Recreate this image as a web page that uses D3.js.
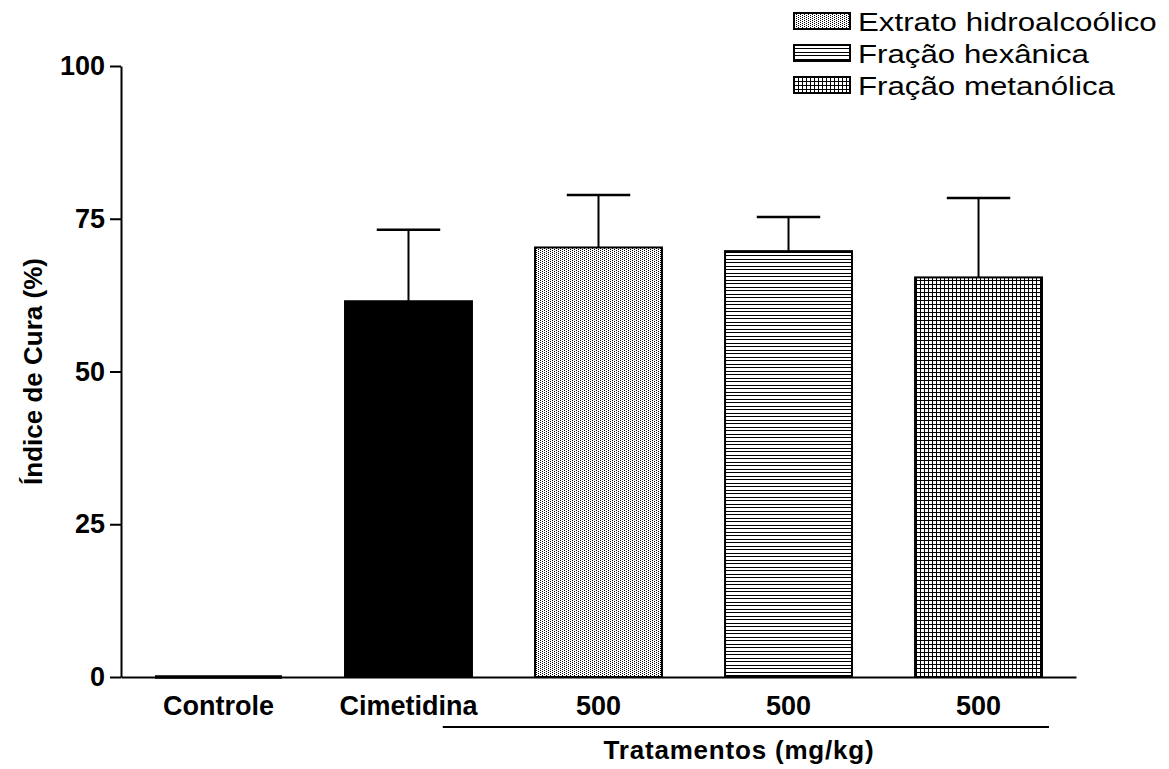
<!DOCTYPE html>
<html>
<head>
<meta charset="utf-8">
<script src="https://cdn.jsdelivr.net/npm/d3@7"></script>
<style>
  body { margin: 0; background: #fff; }
  svg { display: block; font-family: "Liberation Sans", Arial, sans-serif; }
</style>
</head>
<body>
<div id="chart"></div>
<script>
// data
const keys = ['controle', 'cimetidina', 'extrato', 'hexanica', 'metanolica'];
const labels = ['Controle', 'Cimetidina', '500', '500', '500'];
const means = [0, 61.5, 70.3, 69.7, 65.4];
const errors = [0, 11.7, 8.6, 5.6, 13.0];
const yTicks = [0, 25, 50, 75, 100];
const legendNames = ['Extrato hidroalcoólico', 'Fração hexânica', 'Fração metanólica'];

const fillFor = {
  controle: 'none',
  cimetidina: '#000',
  extrato: 'url(#dots)',
  hexanica: 'url(#hlines)',
  metanolica: 'url(#grid)'
};
const legendFills = ['url(#dots)', 'url(#hlines)', 'url(#grid)'];

const width = 1169, height = 769;
const svg = d3.select('#chart').append('svg').attr('width', width).attr('height', height);

// fill patterns
const defs = svg.append('defs');
const dots = defs.append('pattern').attr('id', 'dots').attr('patternUnits', 'userSpaceOnUse')
  .attr('width', 4).attr('height', 2);
dots.append('rect').attr('width', 4).attr('height', 2).attr('fill', '#fff');
dots.append('rect').attr('x', 0).attr('y', 0).attr('width', 1).attr('height', 1).attr('fill', '#000');
dots.append('rect').attr('x', 2).attr('y', 1).attr('width', 1).attr('height', 1).attr('fill', '#000');

const hl = defs.append('pattern').attr('id', 'hlines').attr('patternUnits', 'userSpaceOnUse')
  .attr('width', 4).attr('height', 7);
hl.append('rect').attr('width', 4).attr('height', 7).attr('fill', '#fff');
hl.append('rect').attr('y', 0).attr('width', 4).attr('height', 1).attr('fill', '#000');
hl.append('rect').attr('y', 3).attr('width', 4).attr('height', 1).attr('fill', '#000');

const grid = defs.append('pattern').attr('id', 'grid').attr('patternUnits', 'userSpaceOnUse')
  .attr('width', 4).attr('height', 4);
grid.append('rect').attr('width', 4).attr('height', 4).attr('fill', '#fff');
grid.append('rect').attr('width', 4).attr('height', 1).attr('fill', '#000');
grid.append('rect').attr('width', 1).attr('height', 4).attr('fill', '#000');

const x = d3.scaleBand().domain(keys).range([121, 1076]).paddingInner(0.332).paddingOuter(0.179);
const y = d3.scaleLinear().domain([0, 100]).range([677, 66]);
const bw = x.bandwidth();

const rows = keys.map((k, i) => ({ key: k, mean: means[i], err: errors[i] }));

// bars
svg.selectAll('rect.bar')
  .data(rows.filter(d => d.mean > 0))
  .enter().append('rect')
  .attr('class', 'bar')
  .attr('x', d => x(d.key))
  .attr('y', d => y(d.mean))
  .attr('width', bw)
  .attr('height', d => y(0) - y(d.mean))
  .attr('fill', d => fillFor[d.key])
  .attr('stroke', '#000')
  .attr('stroke-width', 2);

// zero-height bar shows as a thick line
svg.selectAll('line.zero')
  .data(rows.filter(d => d.mean === 0))
  .enter().append('line')
  .attr('x1', d => x(d.key)).attr('x2', d => x(d.key) + bw)
  .attr('y1', y(0)).attr('y2', y(0))
  .attr('stroke', '#000').attr('stroke-width', 3.5);

// error bars (upper only)
const eb = svg.selectAll('g.err')
  .data(rows.filter(d => d.err > 0))
  .enter().append('g');
eb.append('line')
  .attr('x1', d => x(d.key) + bw / 2).attr('x2', d => x(d.key) + bw / 2)
  .attr('y1', d => y(d.mean)).attr('y2', d => y(d.mean + d.err))
  .attr('stroke', '#000').attr('stroke-width', 2);
eb.append('line')
  .attr('x1', d => x(d.key) + bw / 2 - bw / 4).attr('x2', d => x(d.key) + bw / 2 + bw / 4)
  .attr('y1', d => y(d.mean + d.err)).attr('y2', d => y(d.mean + d.err))
  .attr('stroke', '#000').attr('stroke-width', 2.5);

// axes
const yAxis = d3.axisLeft(y).tickValues(yTicks).tickSize(11).tickSizeOuter(0).tickPadding(5);
const gy = svg.append('g').attr('transform', 'translate(121,0)').call(yAxis);
gy.select('.domain').attr('stroke-width', 2);
gy.selectAll('.tick line').attr('stroke-width', 2);
gy.selectAll('.tick text').attr('font-size', 27).attr('font-weight', 'bold')
  .attr('fill', '#000').attr('font-family', '"Liberation Sans", Arial, sans-serif');

const xAxis = d3.axisBottom(x).tickSize(0).tickSizeOuter(0).tickPadding(19)
  .tickFormat((d, i) => labels[i]);
const gx = svg.append('g').attr('transform', `translate(0,${y(0)})`).call(xAxis);
gx.select('.domain').attr('stroke-width', 2);
gx.selectAll('.tick text').attr('font-size', 27).attr('font-weight', 'bold')
  .attr('fill', '#000').attr('font-family', '"Liberation Sans", Arial, sans-serif');

// treatments bracket
svg.append('line')
  .attr('x1', x('cimetidina') + bw * 0.77).attr('x2', x('metanolica') + bw + 7)
  .attr('y1', 727).attr('y2', 727)
  .attr('stroke', '#000').attr('stroke-width', 2);

svg.append('text')
  .attr('x', 739).attr('y', 759)
  .attr('text-anchor', 'middle')
  .attr('font-size', 26).attr('font-weight', 'bold')
  .attr('letter-spacing', 0.8)
  .text('Tratamentos (mg/kg)');

svg.append('text')
  .attr('transform', `translate(42,${y(50)}) rotate(-90)`)
  .attr('text-anchor', 'middle')
  .attr('font-size', 26).attr('font-weight', 'bold')
  .text('Índice de Cura (%)');

// legend
const lg = svg.append('g').attr('transform', 'translate(794,13)');
const item = lg.selectAll('g').data(legendNames).enter().append('g')
  .attr('transform', (d, i) => `translate(0,${i * 32})`);
item.append('rect')
  .attr('width', 56).attr('height', 16)
  .attr('fill', (d, i) => legendFills[i])
  .attr('stroke', '#000').attr('stroke-width', 2);
item.append('text')
  .attr('transform', 'translate(64,17.5) scale(1.25,1.05)')
  .attr('font-size', 25)
  .text(d => d);
</script>
</body>
</html>
